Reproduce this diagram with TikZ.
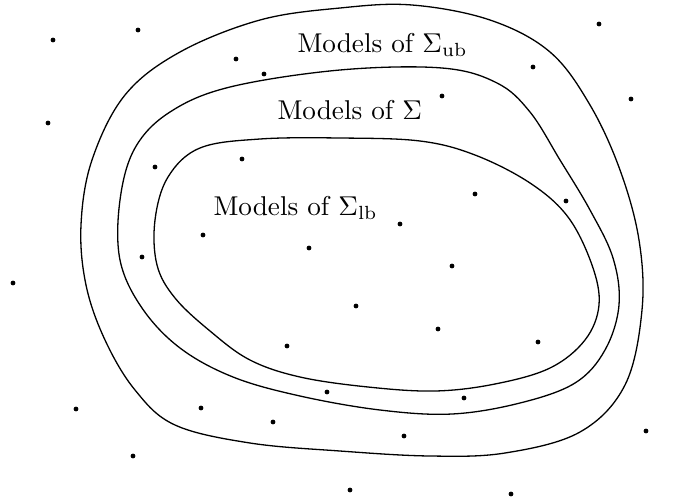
\documentclass[tikz,border=0pt]{standalone}
\begin{document}
\begin{tikzpicture}[x=1pt,y=-1pt,
  curve/.style={draw=black,line width=1.3pt,smooth cycle,tension=0.6},
  pt/.style={fill=black,draw=none},
  lbl/.style={anchor=base west,inner sep=0pt,scale=2.72}]
\useasboundingbox (0,0) rectangle (675,499);
% outer curve
\draw[curve] plot coordinates {(412,5) (490,20) (550,52) (590,105) (620,170) (639,240) (642,310) (625,385) (580,432) (505,453) (430,456) (340,451) (250,443) (175,425) (135,390) (105,340) (86,285) (81,225) (92,160) (125,95) (180,52) (260,20) (340,8)};
% middle curve
\draw[curve] plot coordinates {(340,70) (442,68) (497,83) (530,112) (560,160) (590,210) (613,258) (619,305) (605,350) (575,383) (520,403) (452,414) (380,410) (300,396) (233,377) (180,348) (142,308) (120,260) (120,200) (135,148) (170,112) (230,87)};
% inner curve
\draw[curve] plot coordinates {(340,138) (420,141) (475,155) (530,183) (568,217) (592,265) (599,305) (585,340) (550,368) (495,384) (435,391) (368,387) (300,377) (250,360) (210,331) (175,298) (157,265) (155,220) (168,177) (200,148) (260,139)};
% labels
\node[lbl] (ub) at (297,52) {Models of $\Sigma_{\mathrm{ub}}$};
\node[lbl] (s) at (277,119) {Models of $\Sigma$};
\node[lbl] (lb) at (213,215) {Models of $\Sigma_{\mathrm{lb}}$};
% dots
\foreach \p in {(53,40),(138,30),(236,59),(264,74),(48,123),(155,167),(242,159),(203,235),(309,248),(599,24),(533,67),(631,99),(442,96),(475,194),(566,201),(400,224),(142,257),(13,283),(287,346),(327,392),(76,409),(201,408),(273,422),(133,456),(452,266),(356,306),(438,329),(538,342),(464,398),(404,436),(646,431),(350,490),(511,494)}
  \fill[pt] \p circle (2.4);
\end{tikzpicture}
\end{document}
